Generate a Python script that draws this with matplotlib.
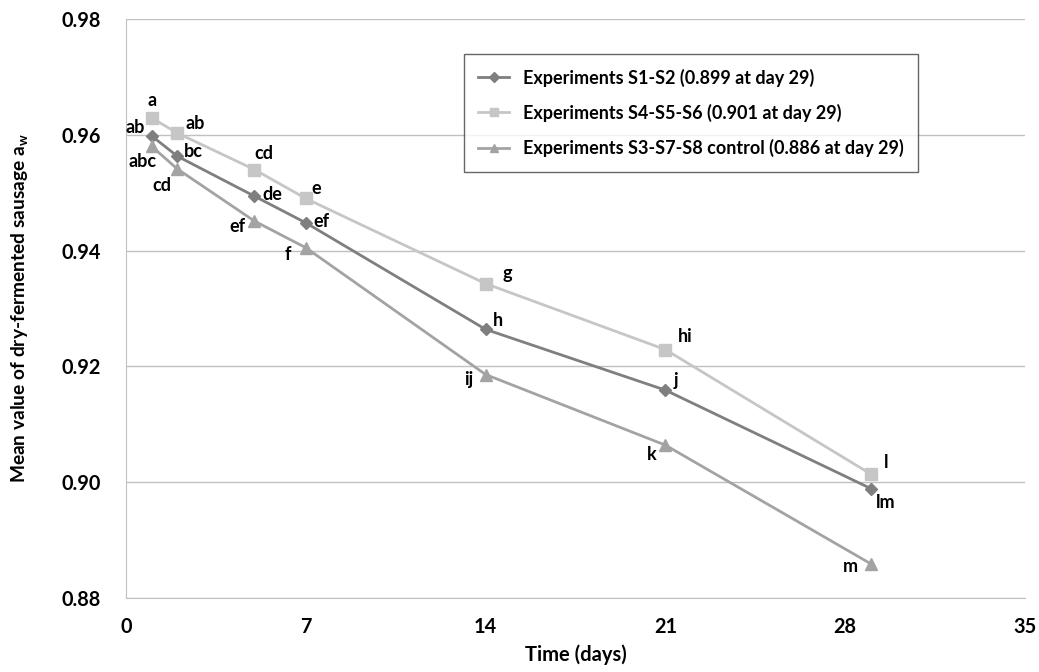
import matplotlib
matplotlib.use("Agg")
import matplotlib.pyplot as plt

plt.rcParams['font.family'] = ['Lato', 'DejaVu Sans']
plt.rcParams['mathtext.fontset'] = 'custom'
plt.rcParams['mathtext.rm'] = 'Lato:bold'
plt.rcParams['mathtext.it'] = 'Lato:bold'
plt.rcParams['mathtext.bf'] = 'Lato:bold'

days = [1, 2, 5, 7, 14, 21, 29]

s12_vals = [0.9598, 0.9563, 0.9494, 0.9448, 0.9264, 0.9159, 0.8989]
s456_vals = [0.9629, 0.9603, 0.9540, 0.9490, 0.9343, 0.9229, 0.9014]
s378_vals = [0.9580, 0.9541, 0.9451, 0.9405, 0.9186, 0.9064, 0.8859]

s12_letters = ['ab', 'bc', 'de', 'ef', 'h', 'j', 'lm']
s456_letters = ['a', 'ab', 'cd', 'e', 'g', 'hi', 'l']
s378_letters = ['abc', 'cd', 'ef', 'f', 'ij', 'k', 'm']

labels = ['Experiments S1-S2 (0.899 at day 29)',
          'Experiments S4-S5-S6 (0.901 at day 29)',
          'Experiments S3-S7-S8 control (0.886 at day 29)']

xticks = [0, 7, 14, 21, 28, 35]
yticks = [0.88, 0.90, 0.92, 0.94, 0.96, 0.98]

# label offsets in pixels (style only)
s12_off = [(-16, 8), (16, 5), (18, 2), (16, 1), (12, 9), (11, 10), (15, -14)]
s456_off = [(0, 18), (18, 10), (9, 16), (10, 10), (22, 10), (20, 13), (15, 12)]
s378_off = [(-9, -15), (-15, -17), (-17, -5), (-18, -7), (-17, -5), (-14, -9), (-20, -3)]

fig = plt.figure(figsize=(10.39, 6.72), dpi=100)
ax = fig.add_axes([126/1039, 1-598/672, 899/1039, 579/672])

c12, c456, c378 = '#7f7f7f', '#c6c6c6', '#a3a3a3'
ax.plot(days, s12_vals, color=c12, lw=2.0, marker='D', ms=6, label=labels[0], zorder=3)
ax.plot(days, s456_vals, color=c456, lw=2.0, marker='s', ms=8, label=labels[1], zorder=3)
ax.plot(days, s378_vals, color=c378, lw=2.0, marker='^', ms=8, label=labels[2], zorder=3)

for vals, lets, offs in [(s12_vals, s12_letters, s12_off),
                         (s456_vals, s456_letters, s456_off),
                         (s378_vals, s378_letters, s378_off)]:
    for d, v, t, o in zip(days, vals, lets, offs):
        ax.annotate(t, (d, v), xytext=o, textcoords='offset pixels',
                    ha='center', va='center', fontsize=13, fontweight='bold', color='black')

ax.set_xlim(0, 35)
ax.set_ylim(0.88, 0.98)
ax.set_xticks(xticks)
ax.set_yticks(yticks)
ax.set_yticklabels([f'{v:.2f}' for v in yticks])
ax.tick_params(length=0, labelsize=14.3, pad=18)
ax.tick_params(axis='x', pad=14)
for lab in ax.get_xticklabels() + ax.get_yticklabels():
    lab.set_fontweight('bold')

ax.grid(axis='y', color='#c0c0c0', lw=1)
ax.set_axisbelow(True)
for s in ['top', 'right']:
    ax.spines[s].set_visible(False)
ax.spines['left'].set_color('#c0c0c0')
ax.spines['bottom'].set_color('#c0c0c0')

ax.set_xlabel('Time (days)', fontsize=14.5, fontweight='bold', labelpad=5)
ax.set_ylabel(r'Mean value of dry-fermented sausage a$_\mathrm{w}$', fontsize=13.8,
              fontweight='bold')
ax.yaxis.set_label_coords(-0.107, 0.5)

leg = ax.legend(loc='upper left', bbox_to_anchor=((464-126)/899, (598-54)/579),
                prop={'weight': 'bold', 'size': 13}, frameon=True, fancybox=False,
                edgecolor='#404040', labelspacing=0.95, handlelength=1.7,
                handletextpad=0.75, borderpad=0.8, borderaxespad=0, markerscale=0.8)
leg.get_frame().set_linewidth(1.0)

fig.savefig('out.png', dpi=100)
